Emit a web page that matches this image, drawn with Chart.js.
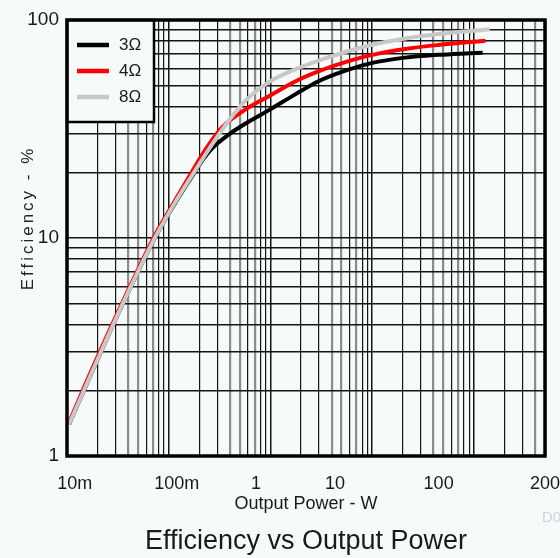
<!DOCTYPE html>
<html>
<head>
<meta charset="utf-8">
<script src="https://cdn.jsdelivr.net/npm/chart.js@4/dist/chart.umd.min.js"></script>
<style>
  html, body { margin: 0; padding: 0; background: #f6fafb; }
  #wrap { width: 560px; height: 558px; position: relative; }
</style>
</head>
<body>
<div id="wrap"><canvas id="chart"></canvas></div>
<script>
// Efficiency (%) against output power (W) for three speaker loads
const power3 = [0.0105, 0.0201, 0.0377, 0.0725, 0.114, 0.170, 0.214, 0.267, 0.392, 0.575, 0.965, 1.77, 2.97, 5.46, 9.80, 21.1, 44.3, 74.3, 122];
const eff3   = [1.40, 2.79, 5.33, 9.95, 14.3, 19.2, 22.7, 25.8, 29.9, 33.6, 38.6, 45.7, 52.4, 58.6, 63.4, 67.2, 69.2, 70.1, 70.7];

const power4 = [0.0105, 0.0201, 0.0377, 0.0725, 0.114, 0.170, 0.234, 0.335, 0.575, 0.965, 1.77, 3.18, 5.46, 9.80, 21.1, 44.3, 74.3, 130];
const eff4   = [1.43, 2.87, 5.44, 10.2, 14.7, 20.2, 25.8, 32.2, 39.0, 44.7, 52.4, 58.9, 64.1, 69.0, 73.6, 76.8, 78.6, 80.3];

const power8 = [0.0105, 0.0201, 0.0377, 0.0725, 0.114, 0.170, 0.267, 0.392, 0.575, 0.965, 1.77, 3.18, 5.46, 9.80, 21.1, 44.3, 74.3, 143];
const eff8   = [1.40, 2.79, 5.33, 9.95, 14.4, 19.4, 26.9, 34.7, 42.9, 51.9, 59.5, 65.8, 71.3, 76.8, 82.2, 86.2, 88.3, 90.6];

const loadNames  = ['3Ω', '4Ω', '8Ω'];
const loadColors = ['#000000', '#ff0000', '#c8c8c8'];

// Axis extents and labelled ticks
const xRange = [0.01, 500];
const yRange = [1, 100];
const xTickText  = ['10m', '100m', '1', '10', '100', '200'];
const xTickValue = [0.0119, 0.12, 0.72, 4.3, 45, 500];
const yTickValue = [1, 10, 100];

const xTitle = 'Output Power - W';
const yTitle = 'Efficiency - %';
const chartTitle = 'Efficiency vs Output Power';
const stamp = 'D0';

const SANS = '"Liberation Sans", Arial, sans-serif';
const BG = '#f6fafb';

// 1..9 x 10^n grid values covering a log range
function logGrid(range) {
  const out = [];
  const e0 = Math.floor(Math.log10(range[0]));
  const e1 = Math.ceil(Math.log10(range[1]));
  for (let e = e0; e <= e1; e++) {
    for (let k = 1; k <= 9; k++) {
      const v = Number((k * Math.pow(10, e)).toPrecision(6));
      if (v >= range[0] * 0.999 && v <= range[1] * 1.001) out.push(v);
    }
  }
  return out;
}
function significand(v) {
  const e = Math.floor(Math.log10(v) + 1e-9);
  return Math.round(v / Math.pow(10, e));
}
// keep edge labels from shrinking the plotting area
function noEdgePadding(s) {
  s.paddingLeft = 0;
  s.paddingRight = 0;
  s.paddingTop = 0;
  s.paddingBottom = 0;
}

const series = [
  { x: power3, y: eff3 },
  { x: power4, y: eff4 },
  { x: power8, y: eff8 }
];

const datasets = series.map((s, i) => ({
  label: loadNames[i],
  data: s.x.map((p, j) => ({ x: p, y: s.y[j] })),
  borderColor: loadColors[i],
  backgroundColor: loadColors[i],
  borderWidth: 4,
  pointRadius: 0,
  cubicInterpolationMode: 'monotone',
  order: 3 - i,
  fill: false
}));

const backdrop = {
  id: 'backdrop',
  beforeDraw(chart) {
    const c = chart.ctx;
    c.save();
    c.fillStyle = BG;
    c.fillRect(0, 0, chart.width, chart.height);
    c.restore();
  }
};

const boxedLegend = {
  id: 'boxedLegend',
  afterDatasetsDraw(chart) {
    const c = chart.ctx;
    const a = chart.chartArea;
    const w = 87, h = 102;
    c.save();
    c.fillStyle = BG;
    c.fillRect(a.left, a.top, w, h);
    c.strokeStyle = '#000';
    c.lineWidth = 2.5;
    c.strokeRect(a.left, a.top, w, h);
    c.font = '17px ' + SANS;
    c.textBaseline = 'middle';
    c.textAlign = 'left';
    chart.data.datasets.forEach((ds, i) => {
      const y = a.top + 25 + i * 26;
      c.strokeStyle = ds.borderColor;
      c.lineWidth = 4.5;
      c.beginPath();
      c.moveTo(a.left + 10, y);
      c.lineTo(a.left + 42, y);
      c.stroke();
      c.fillStyle = '#1a1a1a';
      c.fillText(ds.label, a.left + 52, y);
    });
    c.restore();
  }
};

const frameAndLabels = {
  id: 'frameAndLabels',
  afterDraw(chart) {
    const c = chart.ctx;
    const a = chart.chartArea;
    c.save();
    c.strokeStyle = '#000';
    c.lineWidth = 3.5;
    c.strokeRect(a.left, a.top, a.right - a.left, a.bottom - a.top);

    // rotated, letter-spaced axis title on the left
    c.translate(28.5, 218);
    c.rotate(-Math.PI / 2);
    c.font = '17px ' + SANS;
    if ('letterSpacing' in c) c.letterSpacing = '3px';
    c.fillStyle = '#222';
    c.textAlign = 'center';
    c.textBaseline = 'middle';
    c.fillText(yTitle, 0, 0);
    c.restore();

    c.save();
    c.font = '15px ' + SANS;
    c.fillStyle = '#d0d3d6';
    c.textAlign = 'left';
    c.textBaseline = 'middle';
    c.fillText(stamp, 542, 518);
    c.restore();
  }
};

new Chart(document.getElementById('chart'), {
  type: 'line',
  data: { datasets },
  plugins: [backdrop, boxedLegend, frameAndLabels],
  options: {
    responsive: true,
    maintainAspectRatio: false,
    animation: false,
    devicePixelRatio: 1,
    layout: { autoPadding: false, padding: { top: 20, right: 15, left: 0, bottom: 3 } },
    plugins: {
      legend: { display: false },
      tooltip: { enabled: false },
      title: {
        display: true,
        text: chartTitle,
        position: 'bottom',
        fullSize: false,
        color: '#1a1a1a',
        font: { family: SANS, size: 27, weight: 'normal', lineHeight: 1 },
        padding: { top: 0, bottom: 0 }
      }
    },
    scales: {
      x: {
        type: 'logarithmic',
        position: 'bottom',
        min: xRange[0],
        max: xRange[1],
        afterBuildTicks: s => { s.ticks = logGrid(xRange).map(v => ({ value: v })); },
        afterFit: s => { s.height = 0; noEdgePadding(s); },
        ticks: { display: false },
        border: { display: false },
        grid: {
          drawTicks: false,
          color: ctx => {
            const k = significand(ctx.tick.value);
            return (k === 4 || k === 5 || k === 7) ? '#8c8c8c' : '#151515';
          },
          lineWidth: ctx => {
            const k = significand(ctx.tick.value);
            if (k === 1) return 1.5;
            return (k === 4 || k === 5 || k === 7) ? 2.2 : 1.2;
          }
        }
      },
      xl: {
        type: 'logarithmic',
        position: 'bottom',
        min: xRange[0],
        max: xRange[1],
        afterBuildTicks: s => { s.ticks = xTickValue.map(v => ({ value: v })); },
        afterFit: s => { s.height = 72; noEdgePadding(s); },
        border: { display: false },
        grid: { display: false, drawTicks: false },
        ticks: {
          autoSkip: false,
          maxRotation: 0,
          padding: 17,
          color: '#1a1a1a',
          font: { family: SANS, size: 18 },
          callback: (v, i) => xTickText[i]
        },
        title: {
          display: true,
          text: xTitle,
          color: '#1a1a1a',
          font: { family: SANS, size: 18, lineHeight: 1 },
          padding: { top: 0, bottom: 15 }
        }
      },
      y: {
        type: 'logarithmic',
        position: 'left',
        min: yRange[0],
        max: yRange[1],
        afterBuildTicks: s => { s.ticks = logGrid(yRange).map(v => ({ value: v })); },
        afterFit: s => { s.width = 67; noEdgePadding(s); },
        border: { display: false },
        grid: {
          drawTicks: false,
          color: '#151515',
          lineWidth: 1.4
        },
        ticks: {
          autoSkip: false,
          padding: 8,
          color: '#1a1a1a',
          font: { family: SANS, size: 19 },
          callback: v => (yTickValue.includes(v) ? String(v) : '')
        }
      }
    }
  }
});
</script>
</body>
</html>
